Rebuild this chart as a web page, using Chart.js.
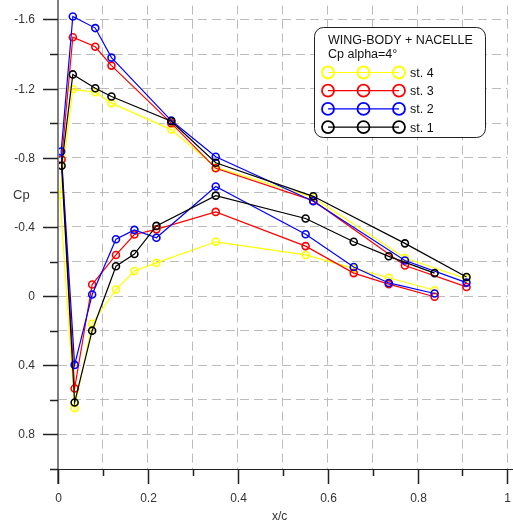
<!DOCTYPE html>
<html>
<head>
<meta charset="utf-8">
<script src="https://cdn.jsdelivr.net/npm/chart.js@4.4.1/dist/chart.umd.min.js"></script>
<style>
  html, body { margin: 0; padding: 0; background: #fff; }
</style>
</head>
<body>
<canvas id="cpChart" width="513" height="522"></canvas>
<script>
// stations, drawn black on top
const stations = ['st. 1', 'st. 2', 'st. 3', 'st. 4'];
const colors = ['#000000', '#0000ff', '#ff0000', '#ffff00'];

// lower surface, trailing edge -> leading edge
const xLower = [0.838, 0.736, 0.658, 0.551, 0.351, 0.219, 0.170, 0.129, 0.076, 0.037];
// upper surface, leading edge -> trailing edge
const xUpper = [0.033, 0.083, 0.119, 0.252, 0.351, 0.568, 0.772, 0.909];
// leading edge point of each station
const xLE = [0.008, 0.007, 0.008, 0.004];
const cpLE = [-0.754, -0.836, -0.790, -0.585];

const cpLower1 = [-0.133, -0.230, -0.314, -0.449, -0.581, -0.406, -0.243, -0.173, 0.200, 0.615];
const cpUpper1 = [-1.282, -1.202, -1.154, -1.011, -0.771, -0.577, -0.305, -0.110];
const cpLower2 = [-0.015, -0.076, -0.168, -0.358, -0.634, -0.337, -0.383, -0.329, -0.009, 0.398];
const cpUpper2 = [-1.617, -1.550, -1.379, -1.015, -0.806, -0.549, -0.206, -0.078];
const cpLower3 = [0.004, -0.069, -0.133, -0.289, -0.487, -0.386, -0.356, -0.238, -0.067, 0.534];
const cpUpper3 = [-1.497, -1.442, -1.333, -1.000, -0.739, -0.552, -0.177, -0.053];
const cpLower4 = [-0.034, -0.106, -0.160, -0.238, -0.314, -0.192, -0.145, -0.038, 0.160, 0.648];
const cpUpper4 = [-1.196, -1.179, -1.116, -0.963, -0.745, -0.570, -0.220, -0.100];

const cpLower = [cpLower1, cpLower2, cpLower3, cpLower4];
const cpUpper = [cpUpper1, cpUpper2, cpUpper3, cpUpper4];

// axis ticks
const xTicks = [0, 0.1, 0.2, 0.3, 0.4, 0.5, 0.6, 0.7, 0.8, 0.9, 1];
const xLabels = [0, 0.2, 0.4, 0.6, 0.8, 1];
const yTicks = [-1.6, -1.4, -1.2, -1, -0.8, -0.6, -0.4, -0.2, 0, 0.2, 0.4, 0.6, 0.8, 1];
const yLabels = [-1.6, -1.2, -0.8, -0.4, 0, 0.4, 0.8];

const legendTitle = ['WING-BODY + NACELLE', 'Cp alpha=4°'];
const xTitle = 'x/c';
const yTitle = 'Cp';

const FONT = '"Liberation Sans", Arial, sans-serif';

const datasets = stations.map((name, i) => {
  const pts = [];
  xLower.forEach((x, j) => pts.push({ x: x, y: cpLower[i][j] }));
  pts.push({ x: xLE[i], y: cpLE[i] });
  xUpper.forEach((x, j) => pts.push({ x: x, y: cpUpper[i][j] }));
  return {
    label: name,
    data: pts,
    borderColor: colors[i],
    borderWidth: 1.2,
    pointRadius: 3.5,
    pointBorderWidth: 1.6,
    pointBorderColor: colors[i],
    pointBackgroundColor: 'rgba(0,0,0,0)',
    tension: 0
  };
});

// axes, tick marks, labels and the framed legend
const axisDecor = {
  id: 'axisDecor',
  afterDraw(chart) {
    const { ctx, chartArea: a, scales: { x, y } } = chart;
    ctx.save();

    // left axis (grey) and bottom axis
    ctx.strokeStyle = '#808080';
    ctx.lineWidth = 2;
    ctx.beginPath(); ctx.moveTo(a.left, 0); ctx.lineTo(a.left, a.bottom + 15); ctx.stroke();
    ctx.strokeStyle = '#222';
    ctx.lineWidth = 1;
    ctx.beginPath(); ctx.moveTo(a.left - 8, a.bottom + 0.5); ctx.lineTo(chart.width, a.bottom + 0.5); ctx.stroke();

    ctx.fillStyle = '#333';
    ctx.font = '12px ' + FONT;
    ctx.lineWidth = 1.5;

    ctx.textAlign = 'right';
    ctx.textBaseline = 'middle';
    yTicks.forEach(v => {
      const py = Math.round(y.getPixelForValue(v)) + 0.5;
      const major = yLabels.includes(v);
      ctx.beginPath(); ctx.moveTo(a.left - (major ? 15 : 8), py); ctx.lineTo(a.left, py); ctx.stroke();
      if (major) ctx.fillText(String(v), a.left - 23, py);
    });

    ctx.textAlign = 'center';
    xTicks.forEach(v => {
      const px = Math.round(x.getPixelForValue(v)) + 0.5;
      const major = xLabels.includes(v);
      ctx.beginPath(); ctx.moveTo(px, a.bottom); ctx.lineTo(px, a.bottom + (major ? 15 : 7)); ctx.stroke();
      if (major) ctx.fillText(String(v), px, a.bottom + 30);
    });

    ctx.fillText(xTitle, (a.left + a.right) / 2 - 3, a.bottom + 48);
    ctx.font = '13px ' + FONT;
    ctx.textAlign = 'left';
    ctx.fillText(yTitle, 13, 195);

    // legend box
    const bx = 314.5, by = 27.5, bw = 171, bh = 110;
    ctx.fillStyle = '#fff';
    ctx.strokeStyle = '#222';
    ctx.lineWidth = 1;
    ctx.beginPath();
    ctx.roundRect(bx, by, bw, bh, 9);
    ctx.fill();
    ctx.stroke();

    ctx.fillStyle = '#111';
    ctx.font = '12.5px ' + FONT;
    ctx.textBaseline = 'middle';
    ctx.fillText(legendTitle[0], 328, 41);
    ctx.fillText(legendTitle[1], 328, 55);

    const rows = chart.data.datasets.slice().reverse();
    rows.forEach((ds, k) => {
      const ry = 72.5 + k * 18.2;
      ctx.strokeStyle = ds.borderColor;
      ctx.lineWidth = 1.2;
      ctx.beginPath(); ctx.moveTo(328, ry); ctx.lineTo(399, ry); ctx.stroke();
      ctx.lineWidth = 1.8;
      [328, 363.5, 399].forEach(cx => {
        ctx.beginPath(); ctx.arc(cx, ry, 6, 0, Math.PI * 2); ctx.stroke();
      });
      ctx.fillStyle = '#111';
      ctx.fillText(ds.label, 410, ry + 1);
    });

    ctx.restore();
  }
};

const gridOpts = {
  color: '#bcbcbc',
  lineWidth: 1,
  drawTicks: false
};

new Chart(document.getElementById('cpChart'), {
  type: 'line',
  data: { datasets: datasets },
  options: {
    responsive: false,
    animation: false,
    layout: { padding: { left: 0, right: 1, top: 0, bottom: 0 } },
    plugins: { legend: { display: false }, tooltip: { enabled: false } },
    scales: {
      x: {
        type: 'linear',
        min: 0,
        max: 1,
        grid: gridOpts,
        border: { display: false, dash: [9, 5] },
        ticks: { display: false },
        afterBuildTicks: s => { s.ticks = xTicks.map(v => ({ value: v })); },
        afterFit: s => { s.height = 53; }
      },
      y: {
        type: 'linear',
        reverse: true,
        min: -1.68,
        max: 1,
        grid: gridOpts,
        border: { display: false, dash: [9, 5] },
        ticks: { display: false },
        afterBuildTicks: s => { s.ticks = yTicks.map(v => ({ value: v })); },
        afterFit: s => { s.width = 58; }
      }
    }
  },
  plugins: [axisDecor]
});
</script>
</body>
</html>
